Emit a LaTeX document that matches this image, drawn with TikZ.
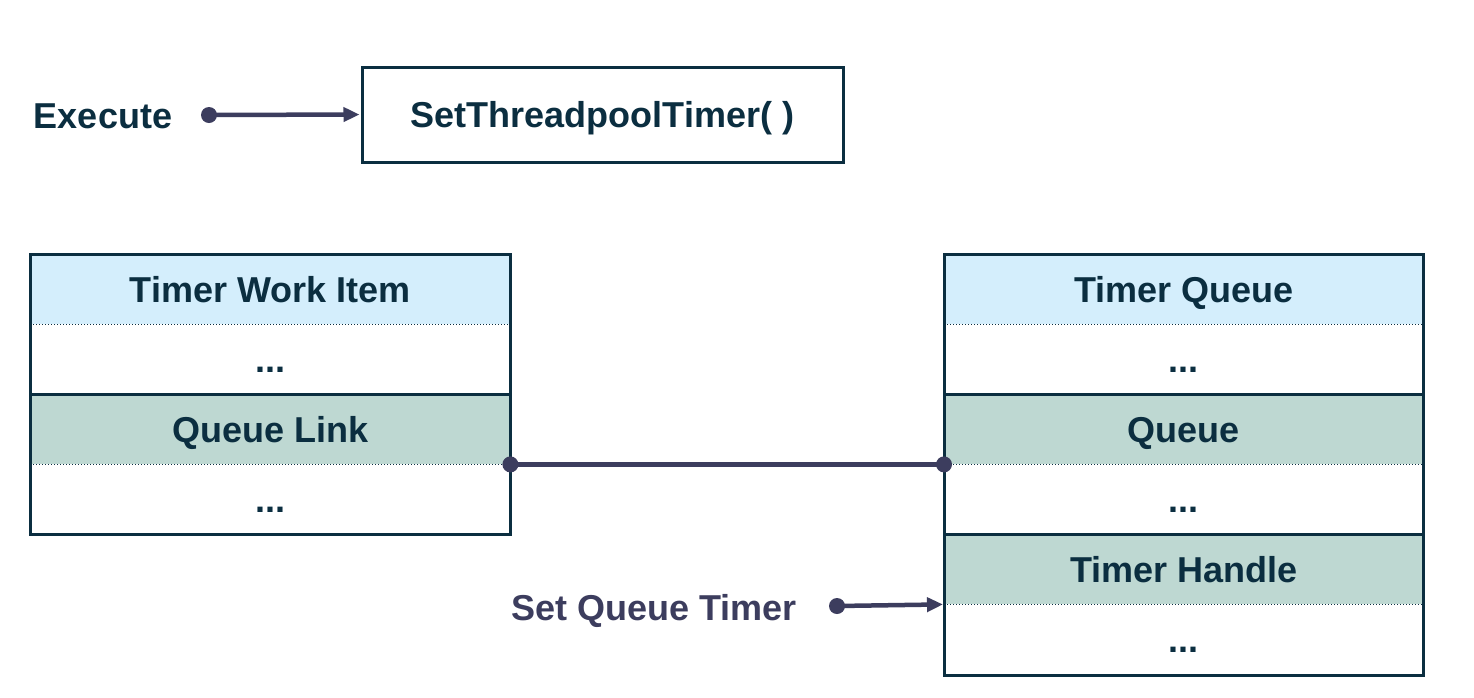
\documentclass[tikz,border=0pt]{standalone}
\usepackage{fontspec}
\setmainfont{Liberation Sans}
\usetikzlibrary{arrows.meta}
\definecolor{ink}{HTML}{0B2E40}
\definecolor{conn}{HTML}{3C3D5E}
\definecolor{hdr}{HTML}{D4EEFC}
\definecolor{grn}{HTML}{BED8D2}
\tikzset{
  lbl/.style={font=\fontsize{36}{42}\selectfont\bfseries, inner sep=0pt, text height=26pt, text depth=0pt},
  tabrow/.style={lbl, text=ink, minimum width=480pt, minimum height=70pt, anchor=north west},
  headrow/.style={tabrow, fill=hdr},
  greenrow/.style={tabrow, fill=grn},
  whiterow/.style={tabrow, fill=white},
  dotsep/.style={ink, line width=1.3pt, dash pattern=on 1.3pt off 1.7pt},
  solsep/.style={ink, line width=2.8pt},
  frame/.style={ink, line width=3pt},
  link/.style={conn, line width=4.5pt},
  arr/.style={conn, line width=4.5pt, -{Triangle[length=16pt,width=14pt]}},
}
\begin{document}
\begin{tikzpicture}[x=1pt,y=-1pt]
\useasboundingbox[fill=white] (0,0) rectangle (1474,697);
% top
\node[lbl, text=ink] (exec) at (103,115) {Execute};
\node[lbl, text=ink, draw=ink, line width=3pt, minimum width=481pt, minimum height=95pt] (stt) at (602.5,114.5) {SetThreadpoolTimer( )};
\coordinate (execdot) at (209,115);
\draw[arr, shorten >=1pt] (execdot) -- (stt.west);
\fill[conn] (execdot) circle (8pt);
% left table
\node[headrow] (twi) at (30,254) {Timer Work Item};
\node[whiterow] (l1) at (30,324) {...};
\node[greenrow] (ql) at (30,394) {Queue Link};
\node[whiterow] (l2) at (30,464) {...};
\draw[dotsep] (twi.south west) -- (twi.south east);
\draw[solsep] (l1.south west) -- (l1.south east);
\draw[dotsep] (ql.south west) -- (ql.south east);
\draw[frame] (twi.north west) rectangle (l2.south east);
% right table
\node[headrow, minimum width=479pt] (tq) at (944,254) {Timer Queue};
\node[whiterow, minimum width=479pt] (r1) at (944,324) {...};
\node[greenrow, minimum width=479pt] (q) at (944,394) {Queue};
\node[whiterow, minimum width=479pt] (r2) at (944,464) {...};
\node[greenrow, minimum width=479pt] (th) at (944,534) {Timer Handle};
\node[whiterow, minimum width=479pt, minimum height=71pt] (r3) at (944,604) {...};
\draw[dotsep] (tq.south west) -- (tq.south east);
\draw[solsep] (r1.south west) -- (r1.south east);
\draw[dotsep] (q.south west) -- (q.south east);
\draw[solsep] (r2.south west) -- (r2.south east);
\draw[dotsep] (th.south west) -- (th.south east);
\draw[frame] (tq.north west) rectangle (r3.south east);
% link
\draw[link] (ql.south east) -- (q.south west);
\fill[conn] (ql.south east) circle (8pt);
\fill[conn] (q.south west) circle (8pt);
% set queue timer
\node[lbl, text=conn] (sqt) at (654,607) {Set Queue Timer};
\coordinate (sqtdot) at (837,606);
\draw[arr, shorten >=1pt] (sqtdot) -- (th.south west);
\fill[conn] (sqtdot) circle (8pt);
\end{tikzpicture}
\end{document}
